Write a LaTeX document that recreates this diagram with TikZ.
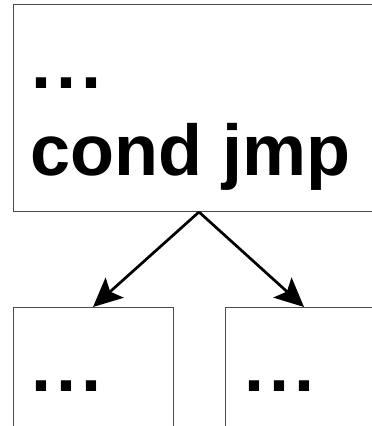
\documentclass[tikz,border=0pt]{standalone}
\usepackage{fontspec}
\setmainfont{Liberation Sans}
\usetikzlibrary{arrows.meta}
\newcommand{\spreaddots}{.\kern5pt.\kern5pt.}
\begin{document}
\begin{tikzpicture}[x=1pt,y=-1pt,
  block/.style={draw=black!70,line width=1pt,rectangle,inner sep=0pt,anchor=north},
  code/.style={anchor=base west,inner sep=0pt,font=\fontsize{72}{86}\selectfont\bfseries},
  branch/.style={line width=2.7pt,-{Stealth[length=29pt,width=27pt,inset=6pt]}}]
\useasboundingbox (0,0) rectangle (372,426);
\clip (0,0) rectangle (372,426);
% basic blocks
\node[block,minimum width=372pt,minimum height=207pt] (top) at (199,4) {};
\node[block,minimum width=160pt,minimum height=140pt] (left) at (93,307) {};
\node[block,minimum width=158pt,minimum height=140pt] (right) at (304,307) {};
% block contents
\node[code] (dots) at (31,88) {\spreaddots};
\node[code] (jmp) at (30,175) {cond jmp};
\node[code] (ldots) at (31,391) {\spreaddots};
\node[code] (rdots) at (244,391) {\spreaddots};
% branch edges
\draw[branch] (top.south) -- (left.north);
\draw[branch] (top.south) -- (right.north);
\end{tikzpicture}
\end{document}
